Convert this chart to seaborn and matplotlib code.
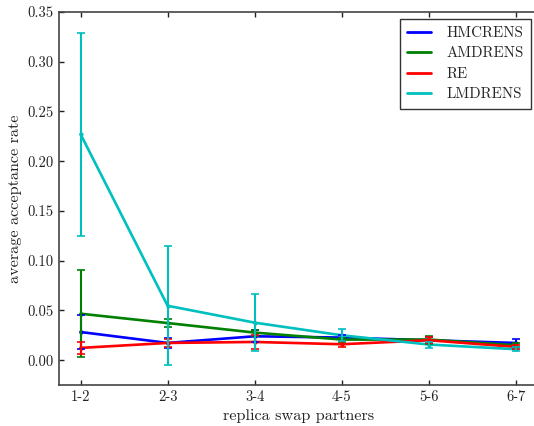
import matplotlib
matplotlib.use("Agg")
import matplotlib.pyplot as plt
from matplotlib.lines import Line2D
import seaborn as sns
import pandas as pd
import numpy as np

pairs = ["1-2", "2-3", "3-4", "4-5", "5-6", "6-7"]
series_names = ["HMCRENS", "AMDRENS", "RE", "LMDRENS"]
hmcrens = [0.0283, 0.0173, 0.0240, 0.0227, 0.0200, 0.0173]
hmcrens_err = [0.017, 0.005, 0.006, 0.003, 0.003, 0.004]
amdrens = [0.0467, 0.0373, 0.0277, 0.0207, 0.0207, 0.0150]
amdrens_err = [0.044, 0.004, 0.003, 0.002, 0.004, 0.002]
re_vals = [0.0123, 0.0173, 0.0183, 0.0160, 0.0200, 0.0133]
re_err = [0.006, 0.004, 0.007, 0.003, 0.003, 0.002]
lmdrens = [0.2273, 0.0547, 0.0377, 0.0250, 0.0157, 0.0110]
lmdrens_err = [0.102, 0.060, 0.029, 0.006, 0.003, 0.002]
colors = ["#0000ff", "#008000", "#ff0000", "#00bfbf"]

values = [hmcrens, amdrens, re_vals, lmdrens]
errors = [hmcrens_err, amdrens_err, re_err, lmdrens_err]

rows = []
for name, vals, errs in zip(series_names, values, errors):
    for i, (v, e) in enumerate(zip(vals, errs)):
        rows.append({"pos": i, "pair": pairs[i], "series": name, "rate": v, "err": e})
df = pd.DataFrame(rows)

sns.set_theme(style="ticks")
plt.rcParams["font.family"] = ["cmr10", "DejaVu Serif"]
plt.rcParams["mathtext.fontset"] = "cm"
plt.rcParams["axes.formatter.use_mathtext"] = True

fig = plt.figure(figsize=(5.34, 4.26), dpi=100)
ax = fig.add_axes([0.110, 0.0962, 0.897, 0.8756])

palette = dict(zip(series_names, colors))
sns.lineplot(data=df, x="pos", y="rate", hue="series", hue_order=series_names,
             palette=palette, linewidth=1.9, ax=ax, legend=False, errorbar=None,
             marker="o", markersize=3, markeredgewidth=0)

for name, c in zip(series_names, colors):
    sub = df[df["series"] == name]
    ax.errorbar(sub["pos"], sub["rate"], yerr=sub["err"], fmt="none", ecolor=c,
                elinewidth=1.5, capsize=3, capthick=1.2)

ax.set_xlim(-0.25, 5.25)
ax.set_ylim(-0.025, 0.35)
ax.set_xticks(range(len(pairs)))
ax.set_xticklabels(pairs)
yt = np.arange(0, 0.351, 0.05)
ax.set_yticks(yt)
ax.set_yticklabels([f"{t:.2f}" for t in yt])
ax.tick_params(direction="in", top=True, right=False, labelsize=10.5, length=3.5,
               width=1.0, color="#222222", labelcolor="#222222")
for s in ax.spines.values():
    s.set_linewidth(1.2)
    s.set_color("#444444")
ax.set_xlabel("replica swap partners", fontsize=11.7, color="#222222")
ax.set_ylabel("average acceptance rate", fontsize=11.7, color="#222222")

handles = [Line2D([], [], color=c, linewidth=2) for c in colors]
leg = ax.legend(handles, series_names, loc="upper right", fontsize=10.8,
                frameon=True, fancybox=False, handlelength=1.6, handletextpad=1.0,
                borderaxespad=0.45, labelspacing=0.45, borderpad=0.5)
leg.get_frame().set_edgecolor("black")
leg.get_frame().set_linewidth(1.0)

fig.savefig("out.png", dpi=100)
